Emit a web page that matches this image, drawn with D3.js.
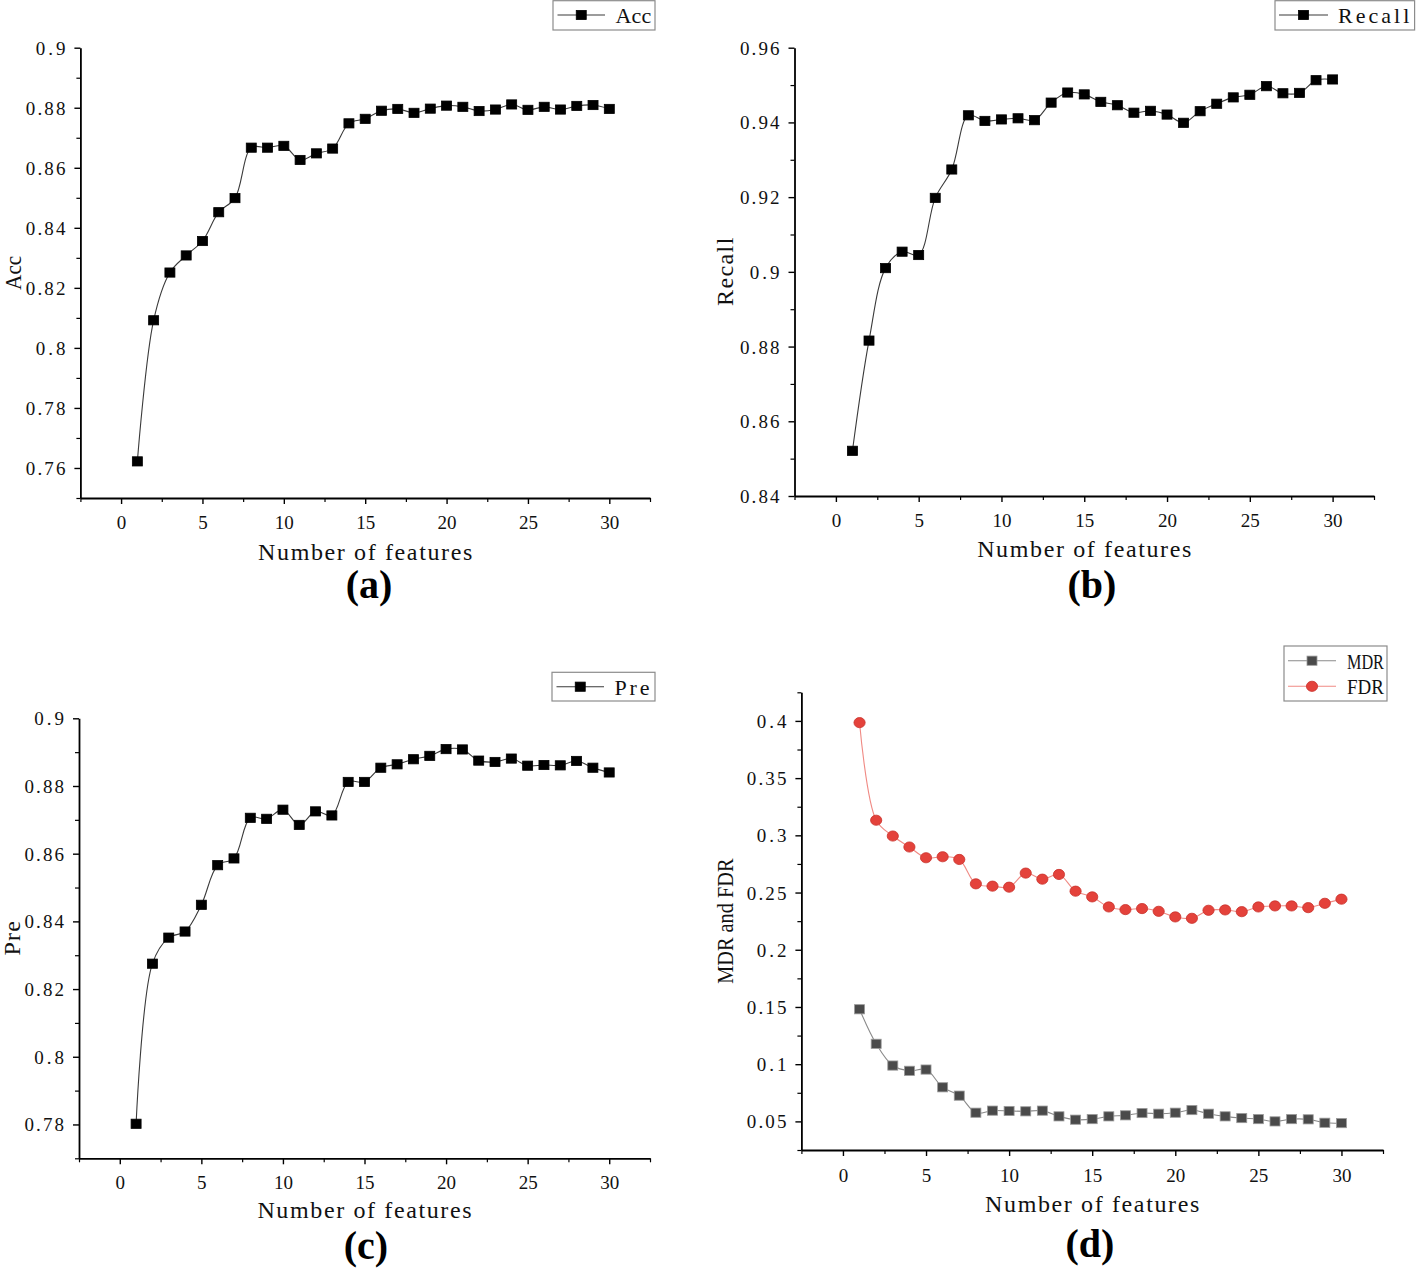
<!DOCTYPE html>
<html><head><meta charset="utf-8">
<script src="https://cdn.jsdelivr.net/npm/d3@7"></script>
<style>body{margin:0;background:#fff}svg{display:block}</style>
</head><body>
<svg id="chart" width="1416" height="1268"></svg>
<script>
// ---------- data ----------
const features = [1,2,3,4,5,6,7,8,9,10,11,12,13,14,15,16,17,18,19,20,21,22,23,24,25,26,27,28,29,30];
const accValues = [0.7622,0.8092,0.8251,0.8308,0.8356,0.8452,0.8499,0.8667,0.8667,0.8673,0.8626,0.8648,0.8664,0.8748,0.8763,0.8790,0.8796,0.8783,0.8797,0.8807,0.8803,0.8789,0.8794,0.8811,0.8793,0.8803,0.8794,0.8806,0.8809,0.8796];
const recallValues = [0.8521,0.8816,0.9010,0.9054,0.9045,0.9198,0.9274,0.9419,0.9404,0.9408,0.9411,0.9406,0.9453,0.9480,0.9475,0.9455,0.9446,0.9426,0.9431,0.9421,0.9399,0.9430,0.9450,0.9467,0.9474,0.9497,0.9478,0.9479,0.9513,0.9515];
const preValues = [0.7802,0.8275,0.8352,0.8370,0.8449,0.8566,0.8586,0.8706,0.8703,0.8730,0.8685,0.8725,0.8713,0.8812,0.8812,0.8854,0.8864,0.8879,0.8889,0.8909,0.8908,0.8875,0.8871,0.8881,0.8860,0.8862,0.8861,0.8874,0.8854,0.8840];
const mdrValues = [0.148,0.1178,0.0988,0.0942,0.0953,0.0798,0.0725,0.0576,0.0594,0.0591,0.0588,0.0594,0.0544,0.0515,0.0520,0.0544,0.0553,0.0573,0.0567,0.0576,0.0599,0.0567,0.0544,0.0529,0.0520,0.0500,0.0520,0.0518,0.0488,0.0485];
const fdrValues = [0.3985,0.3132,0.2994,0.2898,0.2804,0.2813,0.2789,0.2576,0.2556,0.2547,0.2670,0.2617,0.2658,0.2512,0.2462,0.2374,0.2351,0.2360,0.2336,0.2287,0.2275,0.2345,0.2348,0.2333,0.2374,0.2383,0.2383,0.2368,0.2406,0.2442];

const xTicks = [0,5,10,15,20,25,30];
const xMinorTicks = [-2.5,2.5,7.5,12.5,17.5,22.5,27.5,32.5];
const accTicks = [0.76,0.78,0.8,0.82,0.84,0.86,0.88,0.9];
const recallTicks = [0.84,0.86,0.88,0.9,0.92,0.94,0.96];
const preTicks = [0.78,0.8,0.82,0.84,0.86,0.88,0.9];
const rateTicks = [0.05,0.1,0.15,0.2,0.25,0.3,0.35,0.4];

const xTitle = "Number of features";
const panelTags = ["(a)","(b)","(c)","(d)"];

// ---------- layout / style ----------
const FONT = "Liberation Serif, Times New Roman, serif";
const panels = [
  {tag:panelTags[0], L:80.4, R:650, T:47.7, B:498, yDomain:[0.75,0.9], yTicks:accTicks, yMinor:0.01,
   yLabel:"Acc", yLabelX:21, xTickBase:529, xTitleBase:560, tagX:369, tagBase:598,
   series:[{name:"Acc", values:accValues, shape:"square", fill:"#000", stroke:"#000", line:"#3a3a3a"}],
   legend:{x:553, y:0.7, w:102, h:29.3, lineX0:557.5, lineX1:605, textX:615.5, rows:[15], cw:11.9}},
  {tag:panelTags[1], L:794.5, R:1374, T:47.7, B:496, yDomain:[0.84,0.96], yTicks:recallTicks, yMinor:0.01,
   yLabel:"Recall", yLabelX:733, xTickBase:527, xTitleBase:557, tagX:1092, tagBase:598,
   series:[{name:"Recall", values:recallValues, shape:"square", fill:"#000", stroke:"#000", line:"#3a3a3a"}],
   legend:{x:1275, y:0.7, w:139.6, h:29.3, lineX0:1279, lineX1:1328, textX:1338, rows:[15], cw:11.9}},
  {tag:panelTags[2], L:79, R:650, T:718.3, B:1158.3, yDomain:[0.77,0.9], yTicks:preTicks, yMinor:0.01,
   yLabel:"Pre", yLabelX:20, xTickBase:1189, xTitleBase:1218, tagX:366, tagBase:1259,
   series:[{name:"Pre", values:preValues, shape:"square", fill:"#000", stroke:"#000", line:"#3a3a3a"}],
   legend:{x:552, y:672.3, w:103, h:28.7, lineX0:556.5, lineX1:604, textX:614.6, rows:[686.7], cw:11.6}},
  {tag:panelTags[3], L:801.4, R:1383, T:692.3, B:1150, yDomain:[0.025,0.425], yTicks:rateTicks, yMinor:0.025,
   yLabel:"MDR and FDR", yLabelX:733, xTickBase:1182, xTitleBase:1212, tagX:1090, tagBase:1257,
   series:[
     {name:"MDR", values:mdrValues, shape:"square", fill:"#4a4a4a", stroke:"#9a9a9a", line:"#8a8a8a"},
     {name:"FDR", values:fdrValues, shape:"circle", fill:"#e4423b", stroke:"#c9312b", line:"#f08a84"}],
   legend:{x:1284, y:646, w:103, h:55, lineX0:1288, lineX1:1336, textX:1347, rows:[660.7,686.3], cw:12.3}}
];

const svg = d3.select("#chart");
svg.append("rect").attr("width",1416).attr("height",1268).attr("fill","#fff");

function fitText(sel, target){
  const n = sel.node().getComputedTextLength();
  sel.attr("textLength", target).attr("lengthAdjust", n > target ? "spacingAndGlyphs" : "spacing");
}

function drawMarker(g, shape, cx, cy, fill, stroke){
  if (shape === "square"){
    g.append("rect").attr("x", cx-5).attr("y", cy-4.6).attr("width",10).attr("height",9.2)
      .attr("fill", fill).attr("stroke", stroke).attr("stroke-width",0.8);
  } else {
    g.append("ellipse").attr("cx", cx).attr("cy", cy).attr("rx",5.6).attr("ry",5.1)
      .attr("fill", fill).attr("stroke", stroke).attr("stroke-width",0.8);
  }
}

panels.forEach(p => {
  const g = svg.append("g");
  const x = d3.scaleLinear().domain([-2.5, 32.5]).range([p.L, p.R]);
  const y = d3.scaleLinear().domain(p.yDomain).range([p.B, p.T]);

  const yMinorTicks = [];
  const nMinor = Math.round((p.yDomain[1]-p.yDomain[0])/p.yMinor);
  for (let i=0;i<=nMinor;i++){
    const v = +(p.yDomain[0] + i*p.yMinor).toFixed(4);
    if (!p.yTicks.some(t => Math.abs(t-v) < 1e-6)) yMinorTicks.push(v);
  }

  // X axis
  const xAxis = g.append("g").attr("transform", `translate(0,${p.B})`)
    .call(d3.axisBottom(x).tickValues(xTicks).tickSize(6).tickSizeOuter(0).tickFormat(d3.format("d")));
  xAxis.select(".domain").attr("stroke","#000").attr("stroke-width",1.8);
  xAxis.selectAll(".tick line").attr("stroke","#000").attr("stroke-width",1.4);
  xAxis.selectAll(".tick text").attr("font-family",FONT).attr("font-size",19).attr("fill","#111")
    .attr("y", p.xTickBase - p.B).attr("dy", 0);
  const xMin = g.append("g").attr("transform", `translate(0,${p.B})`)
    .call(d3.axisBottom(x).tickValues(xMinorTicks).tickSize(4).tickSizeOuter(0).tickFormat(""));
  xMin.select(".domain").remove();
  xMin.selectAll(".tick line").attr("stroke","#000").attr("stroke-width",1.2);

  // Y axis
  const yAxis = g.append("g").attr("transform", `translate(${p.L},0)`)
    .call(d3.axisLeft(y).tickValues(p.yTicks).tickSize(6).tickSizeOuter(0).tickFormat(d3.format("~g")));
  yAxis.select(".domain").attr("stroke","#000").attr("stroke-width",1.8);
  yAxis.selectAll(".tick line").attr("stroke","#000").attr("stroke-width",1.4);
  yAxis.selectAll(".tick text").attr("font-family",FONT).attr("font-size",19).attr("fill","#111")
    .attr("x",-15).attr("dy","0.34em")
    .each(function(){ const t = d3.select(this); fitText(t, t.text().length*9.9); });
  const yMin = g.append("g").attr("transform", `translate(${p.L},0)`)
    .call(d3.axisLeft(y).tickValues(yMinorTicks).tickSize(4).tickSizeOuter(0).tickFormat(""));
  yMin.select(".domain").remove();
  yMin.selectAll(".tick line").attr("stroke","#000").attr("stroke-width",1.2);

  // axis titles
  const xt = g.append("text").attr("x",(p.L+p.R)/2).attr("y",p.xTitleBase).attr("text-anchor","middle")
    .attr("font-family",FONT).attr("font-size",24).attr("fill","#111").text(xTitle);
  fitText(xt, xTitle.length*11.9);
  const yt = g.append("text").attr("transform",`translate(${p.yLabelX},${(p.T+p.B)/2}) rotate(-90)`)
    .attr("text-anchor","middle").attr("font-family",FONT).attr("font-size",24).attr("fill","#111").text(p.yLabel);
  fitText(yt, p.yLabel.length*11.4);

  // series
  p.series.forEach(s => {
    const line = d3.line().x((d,i)=>x(features[i])).y(d=>y(d)).curve(d3.curveCatmullRom.alpha(0.5));
    g.append("path").datum(s.values).attr("d", line).attr("fill","none").attr("stroke", s.line).attr("stroke-width",1.1);
  });
  p.series.forEach(s => {
    s.values.forEach((v,i) => drawMarker(g, s.shape, x(features[i]), y(v), s.fill, s.stroke));
  });

  // legend
  const lg = p.legend;
  g.append("rect").attr("x",lg.x).attr("y",lg.y).attr("width",lg.w).attr("height",lg.h)
    .attr("fill","#fff").attr("stroke","#8c8c8c").attr("stroke-width",1.2);
  p.series.forEach((s,i) => {
    const cy = lg.rows[i];
    g.append("line").attr("x1",lg.lineX0).attr("x2",lg.lineX1).attr("y1",cy).attr("y2",cy)
      .attr("stroke", s.line).attr("stroke-width",1.1);
    drawMarker(g, s.shape, (lg.lineX0+lg.lineX1)/2, cy, s.fill, s.stroke);
    const lt = g.append("text").attr("x",lg.textX).attr("y",cy+8).attr("font-family",FONT)
      .attr("font-size",22).attr("fill","#111").text(s.name);
    fitText(lt, s.name.length*lg.cw);
  });

  // panel tag
  g.append("text").attr("x",p.tagX).attr("y",p.tagBase).attr("text-anchor","middle")
    .attr("font-family",FONT).attr("font-weight","bold").attr("font-size",40).attr("fill","#000").text(p.tag);
});
</script>
</body></html>
